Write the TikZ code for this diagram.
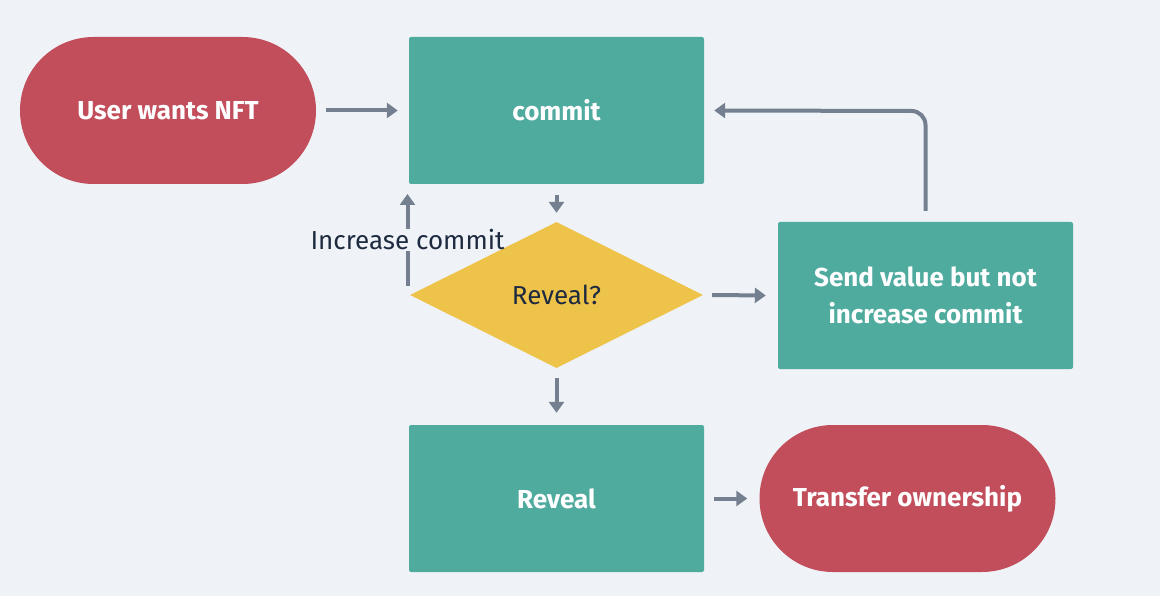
\documentclass[tikz,border=0pt]{standalone}
\usepackage{fontspec}
\setmainfont{Fira Sans}
\usetikzlibrary{arrows.meta,shapes.geometric}
\definecolor{bg}{HTML}{EFF3F7}
\definecolor{redc}{HTML}{C24D5B}
\definecolor{tealc}{HTML}{50AB9F}
\definecolor{yelc}{HTML}{EEC34A}
\definecolor{arrc}{HTML}{74808F}
\definecolor{txtc}{HTML}{1E2A40}
\tikzset{
  x=1pt,y=-1pt,
  term/.style={fill=redc,rounded corners=73.5pt,minimum width=296pt,minimum height=147pt,inner sep=0pt,text=white,font=\fontsize{26}{30}\selectfont\bfseries},
  proc/.style={fill=tealc,rounded corners=2pt,minimum width=295pt,minimum height=147pt,inner sep=0pt,text=white,align=center,font=\fontsize{26}{37}\selectfont\bfseries},
  dec/.style={fill=yelc,diamond,aspect=2,minimum width=293pt,minimum height=146pt,inner sep=0pt,text=txtc,font=\fontsize{26}{30}\selectfont},
  conn/.style={arrc,line width=4pt,-{Triangle[width=15pt,length=11pt]}},
  seg/.style={arrc,line width=4pt},
  lbl/.style={text=txtc,font=\fontsize{26}{30}\selectfont,inner sep=1pt}
}
\begin{document}
\begin{tikzpicture}
\fill[bg] (0,0) rectangle (1160,596);
\useasboundingbox (0,0) rectangle (1160,596);
\node[term] (user) at (168,110.5) {User wants NFT};
\node[proc] (commit) at (556.5,110.5) {commit};
\node[dec] (rev) at (556.5,295) {Reveal?};
\node[proc] (send) at (925.5,295.5) {Send value but not\\increase commit};
\node[proc] (reveal) at (556.5,498.5) {Reveal};
\node[term] (transfer) at (907.5,498.5) {Transfer ownership};
\draw[conn] ([xshift=10pt]user.east) -- ([xshift=-11pt]commit.west);
\draw[conn] ([yshift=-11pt]commit.south) -- ([yshift=9pt]rev.north);
\draw[conn] ([yshift=-10pt]rev.south) -- ([yshift=12pt]reveal.north);
\draw[conn] ([xshift=9pt]rev.east) -- ([xshift=-12pt]send.west);
\draw[conn] ([xshift=10pt]reveal.east) -- ([xshift=-12pt]transfer.west);
\draw[conn,rounded corners=14pt] ([yshift=11pt]send.north) -- (925.5,111) -- ([xshift=10pt]commit.east);
\node[lbl] (inc) at (407.5,240) {Increase commit};
\coordinate (ic1) at (407.5,286);
\coordinate (ic2) at (407.5,194);
\draw[seg] (ic1) -- (inc.south -| ic1);
\draw[conn] (inc.north -| ic1) -- (ic2);
\end{tikzpicture}
\end{document}
